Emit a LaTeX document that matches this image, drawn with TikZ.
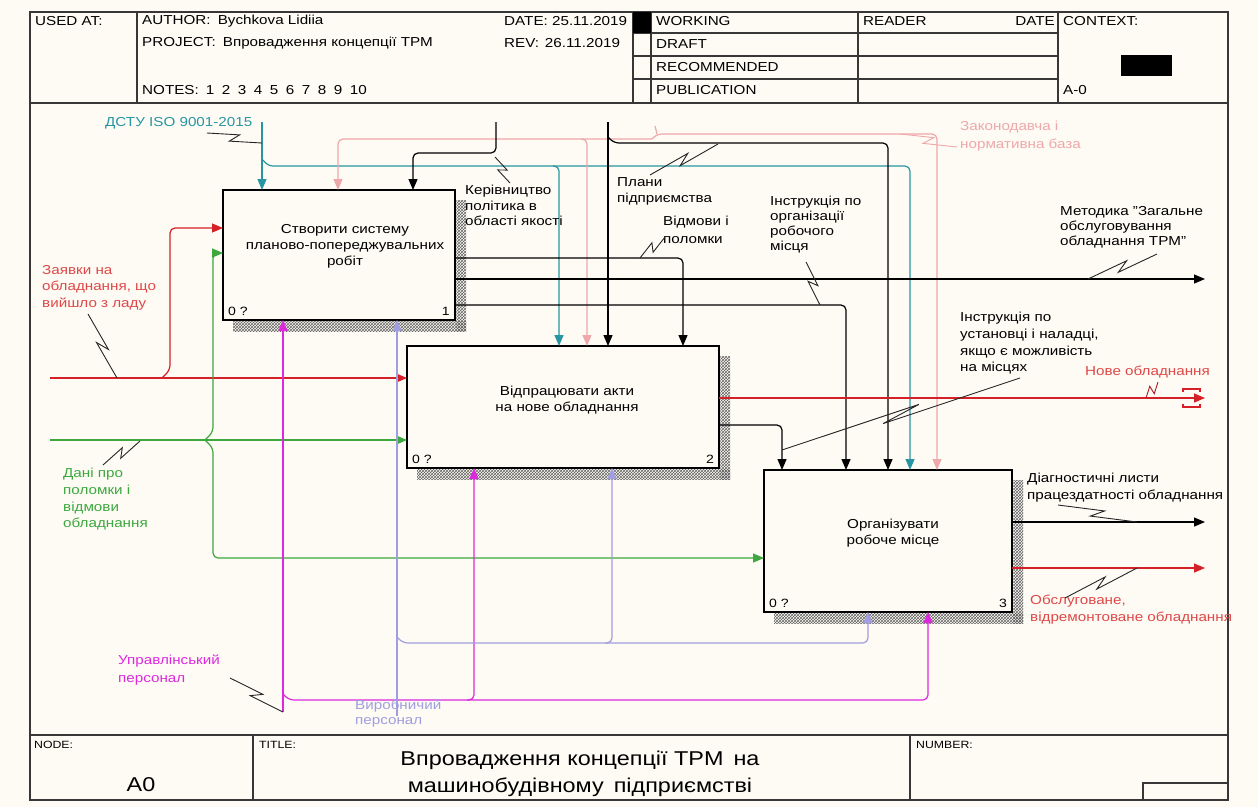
\documentclass[tikz,border=0pt]{standalone}
\usepackage{fontspec}
\setmainfont[FakeStretch=1.17]{Liberation Sans}
\usetikzlibrary{arrows.meta,patterns,calc}
\definecolor{bg}{RGB}{253,251,244}
\definecolor{cred}{RGB}{214,32,40}
\definecolor{lred}{RGB}{222,72,72}
\definecolor{cgreen}{RGB}{60,168,62}
\definecolor{cteal}{RGB}{40,150,162}
\definecolor{cpink}{RGB}{238,168,170}
\definecolor{cmag}{RGB}{222,40,222}
\definecolor{clav}{RGB}{160,158,222}
\definecolor{frm}{RGB}{55,55,55}
\newcommand\zig[3][black!85]{\draw[sqline,#1] (#2) -- ($(#2)!0.58!(#3)!4pt!90:(#3)$) -- ($(#2)!0.42!(#3)!4pt!-90:(#3)$) -- (#3);}
\begin{document}
\begin{tikzpicture}[x=1pt,y=-1pt,
  arr/.style={-{Triangle[length=11pt,width=9pt]}, line width=1.2pt, rounded corners=5pt},
  ln/.style={line width=1.2pt, rounded corners=5pt},
  box/.style={draw=black, line width=2.8pt, fill=bg, anchor=north west, inner sep=0pt, outer sep=0pt},
  btxt/.style={align=center, font=\fontsize{13}{16}\selectfont, inner sep=0pt},
  lbl/.style={align=left, anchor=north west, inner sep=0pt, font=\fontsize{13}{16}\selectfont},
  hd/.style={anchor=west, inner sep=0pt, font=\fontsize{13}{15}\selectfont},
  sm/.style={anchor=west, inner sep=0pt, font=\fontsize{10.5}{12}\selectfont},
  cn/.style={inner sep=0pt, font=\fontsize{12}{12}\selectfont},
  grid/.style={draw=frm, line width=1.2pt},
  sqline/.style={line width=0.9pt},
  shade/.style={pattern=crosshatch, pattern color=black!60}
]
\fill[bg] (0,0) rectangle (1258,807);
\useasboundingbox (0,0) rectangle (1258,807);

% ---------- frame and header ----------
\draw[grid] (30,12) rectangle (1228,800);
\draw[grid] (30,103) -- (1228,103);
\draw[grid] (137,12) -- (137,103);
\draw[grid] (633,12) -- (633,103);
\draw[grid] (651,12) -- (651,103);
\draw[grid] (858,12) -- (858,103);
\draw[grid] (1058,12) -- (1058,103);
\draw[grid] (633,33) -- (1058,33);
\draw[grid] (633,56) -- (1058,56);
\draw[grid] (633,79) -- (1058,79);
\fill[black] (633,12) rectangle (651,33);
\fill[black] (1121,55) rectangle (1172,76);

\node[hd] (usedat) at (35,21) {USED AT:};
\node[hd] (author) at (142,21) {AUTHOR:\hspace{0.55em}Bychkova Lidiia};
\node[hd] (project) at (142,43) {PROJECT:\hspace{0.55em}Впровадження концепції TPM};
\node[hd] (notes) at (142,90) {NOTES:\hspace{0.55em}1\hspace{0.58em}2\hspace{0.58em}3\hspace{0.58em}4\hspace{0.58em}5\hspace{0.58em}6\hspace{0.58em}7\hspace{0.58em}8\hspace{0.58em}9\hspace{0.58em}10};
\node[hd] (date) at (504,21) {DATE: 25.11.2019};
\node[hd] (rev) at (504,43) {REV:\hspace{0.45em}26.11.2019};
\node[hd] (working) at (656,21) {WORKING};
\node[hd] (draft) at (656,44) {DRAFT};
\node[hd] (recom) at (656,67) {RECOMMENDED};
\node[hd] (public) at (656,90) {PUBLICATION};
\node[hd] (reader) at (863,21) {READER};
\node[hd, anchor=east] (rdate) at (1055,21) {DATE};
\node[hd] (context) at (1063,21) {CONTEXT:};
\node[hd] (azero) at (1063,90) {A-0};

% ---------- footer ----------
\draw[grid] (30,735) -- (1228,735);
\draw[grid] (253,735) -- (253,800);
\draw[grid] (910,735) -- (910,800);
\draw[grid] (1143,800) -- (1143,783) -- (1228,783);
\node[sm] (nodelbl) at (34,745) {NODE:};
\node[sm] (titlelbl) at (259,745) {TITLE:};
\node[sm] (numlbl) at (916,745) {NUMBER:};
\node[inner sep=0pt, font=\fontsize{20}{20}\selectfont] (a0) at (141,785) {A0};
\node[inner sep=0pt, align=center, font=\fontsize{20}{27}\selectfont] (title) at (580,774)
  {Впровадження концепції TPM\hspace{0.5em}на\\машинобудівному\hspace{0.5em}підприємстві};

% ---------- boxes ----------
\node[box, minimum width=232pt, minimum height=130pt] (b1) at (223,190) {};
\node[box, minimum width=312pt, minimum height=122pt] (b2) at (407,346) {};
\node[box, minimum width=248pt, minimum height=142pt] (b3) at (764,470) {};
\foreach \b in {b1,b2,b3}{
  \fill[shade] ($(\b.north east)+(1.4,10)$) rectangle ($(\b.south east)+(11,11)$);
  \fill[shade] ($(\b.south west)+(10,1.4)$) rectangle ($(\b.south east)+(11,11)$);
  \node[cn, anchor=south west] (\b z) at ($(\b.south west)+(5,-4)$) {0 ?};
}
\node[cn, anchor=south east] (b1n) at ($(b1.south east)+(-5,-4)$) {1};
\node[cn, anchor=south east] (b2n) at ($(b2.south east)+(-5,-4)$) {2};
\node[cn, anchor=south east] (b3n) at ($(b3.south east)+(-5,-4)$) {3};
\node[btxt] (t1) at (345,246) {Створити систему\\планово-попереджувальних\\робіт};
\node[btxt] (t2) at (567,400) {Відпрацювати акти\\на нове обладнання};
\node[btxt] (t3) at (893,533) {Організувати\\робоче місце};

% ---------- inputs ----------
\coordinate (rin) at (50,378);
\draw[arr, cred] (rin) -- (b2.west |- 0,378);
\draw[arr, cred] (162,378) -- (170,370) -- (170,228) -- (b1.west |- 0,228);
\coordinate (gin) at (50,440);
\draw[arr, cgreen] (gin) -- (b2.west |- 0,440);
\draw[arr, cgreen] (205,440) -- (213,432) -- (213,253) -- (b1.west |- 0,253);
\draw[arr, cgreen] (205,440) -- (213,448) -- (213,558) -- (b3.west |- 0,558);

% ---------- controls ----------
\coordinate (iso) at (262,122);
\draw[arr, cteal] (iso) -- (262,0 |- b1.north);
\draw[arr, cteal] (263,160) -- (268,166) -- (910,166) -- (910,0 |- b3.north);
\draw[arr, cteal] (553,166) -- (559,166) -- (559,0 |- b2.north);

\draw[arr, cpink] (652,139) -- (338,139) -- (338,0 |- b1.north);
\draw[arr, cpink] (652,139) -- (657,134) -- (937,134) -- (937,0 |- b3.north);
\draw[ln, cpink] (657,134) -- (655,126);
\draw[arr, cpink] (581,139) -- (587,139) -- (587,0 |- b2.north);

\coordinate (ker) at (496,122);
\draw[arr] (ker) -- (496,153) -- (413,153) -- (413,0 |- b1.north);
\coordinate (plan) at (608,122);
\draw[arr] (plan) -- (608,0 |- b2.north);
\draw[arr] (608,137) -- (614,143) -- (888,143) -- (888,0 |- b3.north);

% ---------- outputs ----------
\draw[arr] (b1.east |- 0,258) -- (683,258) -- (683,0 |- b2.north);
\coordinate (met) at (1205,279);
\draw[arr] (b1.east |- 0,279) -- (met);
\draw[arr] (b1.east |- 0,305) -- (846,305) -- (846,0 |- b3.north);
\coordinate (nove) at (1205,398);
\draw[arr, cred] (b2.east |- 0,398) -- (nove);
\draw[cred, line width=1.2pt] (1200,392) -- (1200,389) -- (1183,389) -- (1183,392);
\draw[cred, line width=1.2pt] (1183,404) -- (1183,407) -- (1200,407) -- (1200,404);
\draw[arr] (b2.east |- 0,425) -- (782,425) -- (782,0 |- b3.north);
\coordinate (diag) at (1205,522);
\draw[arr] (b3.east |- 0,522) -- (diag);
\coordinate (obsl) at (1205,568);
\draw[arr, cred] (b3.east |- 0,568) -- (obsl);

% ---------- mechanisms ----------
\coordinate (upr) at (283,712);
\draw[arr, cmag] (upr) -- (283,0 |- b1.south);
\draw[arr, cmag] (283,694) -- (289,700) -- (928,700) -- (928,0 |- b3.south);
\draw[arr, cmag] (467,700) -- (474,700) -- (474,0 |- b2.south);
\coordinate (vyr) at (397,716);
\draw[arr, clav] (vyr) -- (397,0 |- b1.south);
\draw[arr, clav] (397,637) -- (403,643) -- (868,643) -- (868,0 |- b3.south);
\draw[arr, clav] (605,643) -- (612,643) -- (612,0 |- b2.south);

% ---------- labels ----------
\node[lbl, cteal] (liso) at (105,117) {ДСТУ ISO 9001-2015};
\node[lbl, lred, font=\fontsize{13}{16.5}\selectfont] (lzay) at (42,265) {Заявки на\\обладнання, що\\вийшло з ладу};
\node[lbl, cgreen, font=\fontsize{13}{16.7}\selectfont] (ldan) at (63,468) {Дані про\\поломки і\\відмови\\обладнання};
\node[lbl, font=\fontsize{13}{15.5}\selectfont] (lker) at (465,185) {Керівництво\\політика в\\області якості};
\node[lbl, font=\fontsize{13}{16.5}\selectfont] (lplan) at (617,177) {Плани\\підприємства};
\node[lbl, font=\fontsize{13}{18}\selectfont] (lvid) at (663,216) {Відмови і\\поломки};
\node[lbl, font=\fontsize{13}{15}\selectfont] (lins) at (770,196) {Інструкція по\\організації\\робочого\\місця};
\node[lbl, font=\fontsize{13}{15}\selectfont] (lmet) at (1060,206) {Методика "Загальне\\обслуговування\\обладнання TPM"};
\node[lbl, cpink, font=\fontsize{13}{18}\selectfont] (lzak) at (960,121) {Законодавча і\\нормативна база};
\node[lbl, font=\fontsize{13}{16.7}\selectfont] (lust) at (960,312) {Інструкція по\\установці і наладці,\\якщо є можливість\\на місцях};
\node[lbl, lred] (lnov) at (1085,366) {Нове обладнання};
\node[lbl, font=\fontsize{13}{17}\selectfont] (ldia) at (1027,473) {Діагностичні листи\\працездатності обладнання};
\node[lbl, lred, font=\fontsize{13}{17}\selectfont] (lobs) at (1030,595) {Обслуговане,\\відремонтоване обладнання};
\node[lbl, cmag, font=\fontsize{13}{18}\selectfont] (lupr) at (118,655) {Управлінський\\персонал};
\node[lbl, clav, font=\fontsize{13}{15}\selectfont] (lvyr) at (355,700) {Виробничий\\персонал};

% ---------- squiggles ----------
\zig{207,133}{262,143}
\zig{88,314}{117,378}
\zig{103,465}{140,441}
\zig{510,183}{495,157}
\zig{650,175}{718,144}
\zig{665,237}{640,258}
\zig{806,262}{820,305}
\zig{1157,254}{1088,279}
\zig[cpink]{957,147}{900,134}
\zig[cred!80!black]{1158,382}{1146,398}
\zig{1020,378}{782,450}
\zig{1058,505}{1137,522}
\zig{1065,598}{1137,568}
\zig{230,678}{283,712}
\end{tikzpicture}
\end{document}
